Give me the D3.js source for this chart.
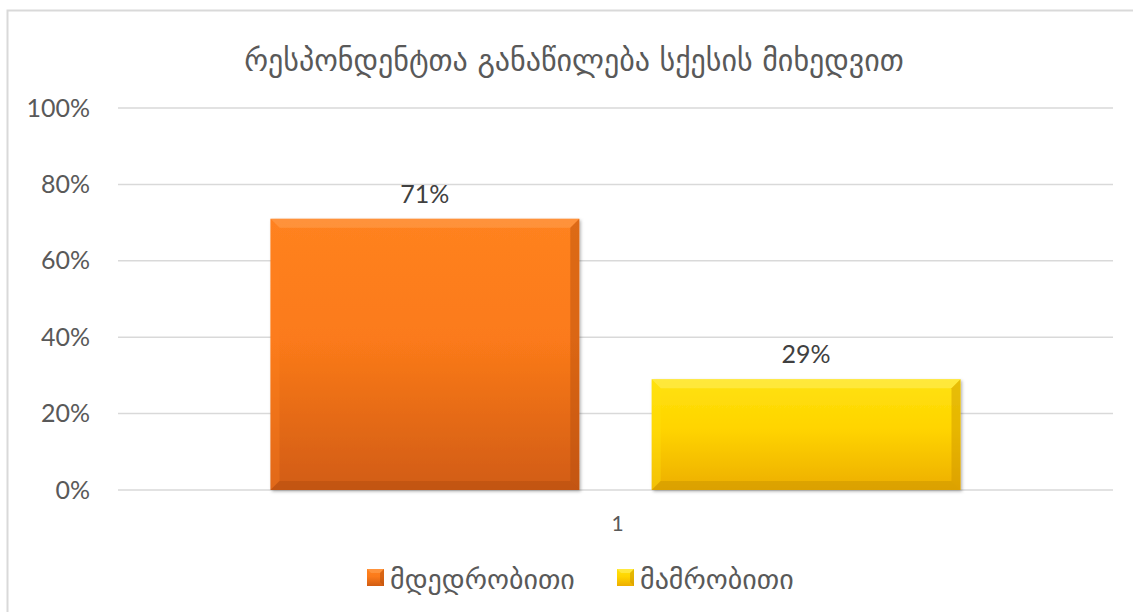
<!DOCTYPE html>
<html><head><meta charset="utf-8">
<script src="https://cdn.jsdelivr.net/npm/d3@7"></script>
<style>body{margin:0;background:#fff}svg{display:block}</style>
</head><body>
<svg id="c" width="1134" height="612"></svg>
<script>
const title = "რესპონდენტთა განაწილება სქესის მიხედვით";
const categories = ["1"];
const seriesNames = ["მდედრობითი", "მამრობითი"];
const seriesValues = [0.71, 0.29];
const valueLabels = ["71%", "29%"];
const yTicks = [0, 0.2, 0.4, 0.6, 0.8, 1.0];
const colors = [
  {top:"#FF8220", mid:"#FB7A1A", bot:"#D15C12", light:"#FFA050", dark:"#B44E0E"},
  {top:"#FFE20E", mid:"#FFD400", bot:"#EDAE00", light:"#FFEE60", dark:"#C99300"}
];

const svg = d3.select("#c");
const txt = "#595959";
const numFont = "Lato, 'Open Sans', sans-serif";
const geoFont = "'DejaVu Sans', 'Noto Sans', sans-serif";

// chart border
svg.append("path").attr("d","M7.5,612 V10.5 H1133").attr("fill","none").attr("stroke","#D9D9D9").attr("stroke-width",2);

const L=118, R=1113, T=108, B=490;
const y = d3.scaleLinear().domain([0,1]).range([B,T]);
const x0 = d3.scaleBand().domain(categories).range([L,R]).paddingInner(0).paddingOuter(0);
const x1 = d3.scaleBand().domain(seriesNames).range([0,x0.bandwidth()]).paddingInner(0.19).paddingOuter(0.4);

// gridlines
svg.append("g").selectAll("line").data(yTicks).join("line")
  .attr("x1",L).attr("x2",R).attr("y1",d=>y(d)).attr("y2",d=>y(d))
  .attr("stroke","#D9D9D9").attr("stroke-width",1.5);

// y axis labels
const yAxis = d3.axisLeft(y).tickValues(yTicks).tickFormat(d3.format(".0%")).tickSize(0).tickPadding(28);
const ga = svg.append("g").attr("transform",`translate(${L},0)`).call(yAxis);
ga.select(".domain").remove();
ga.selectAll("text").attr("font-family",numFont).attr("font-size",25).attr("fill",txt);

// gradients
const defs = svg.append("defs");
colors.forEach((c,i)=>{
  const g = defs.append("linearGradient").attr("id","g"+i).attr("x1",0).attr("y1",0).attr("x2",0).attr("y2",1);
  g.append("stop").attr("offset","0%").attr("stop-color",c.top);
  g.append("stop").attr("offset","45%").attr("stop-color",c.mid);
  g.append("stop").attr("offset","100%").attr("stop-color",c.bot);
});
const sh = defs.append("filter").attr("id","sh").attr("x","-5%").attr("y","-5%").attr("width","115%").attr("height","115%");
sh.append("feDropShadow").attr("dx",1.5).attr("dy",1.5).attr("stdDeviation",1.5).attr("flood-color","#000").attr("flood-opacity",0.3);

// bars
const data = seriesNames.map((s,i)=>({s, v:seriesValues[i], i, label:valueLabels[i]}));
const bars = svg.append("g").attr("transform",`translate(${x0(categories[0])},0)`);
const bw = x1.bandwidth();
const bev = 9;
data.forEach(d=>{
  const xa = x1(d.s), xb = xa+bw, ya = y(d.v), yb = y(0);
  const g = bars.append("g");
  g.append("rect").attr("x",xa).attr("y",ya).attr("width",bw).attr("height",yb-ya)
    .attr("fill",`url(#g${d.i})`).attr("filter","url(#sh)");
  const c = colors[d.i];
  g.append("path").attr("d",`M${xa},${ya} L${xb},${ya} L${xb-bev},${ya+bev} L${xa+bev},${ya+bev}Z`).attr("fill",c.light).attr("opacity",0.55);
  g.append("path").attr("d",`M${xa},${ya} L${xa+bev},${ya+bev} L${xa+bev},${yb-bev} L${xa},${yb}Z`).attr("fill",c.top).attr("opacity",0.35);
  g.append("path").attr("d",`M${xb},${ya} L${xb},${yb} L${xb-bev},${yb-bev} L${xb-bev},${ya+bev}Z`).attr("fill",c.dark).attr("opacity",0.45);
  g.append("path").attr("d",`M${xa},${yb} L${xb},${yb} L${xb-bev},${yb-bev} L${xa+bev},${yb-bev}Z`).attr("fill",c.dark).attr("opacity",0.5);
  g.append("text").attr("x",(xa+xb)/2).attr("y",ya-16).attr("text-anchor","middle")
    .attr("font-family",numFont).attr("font-size",25).attr("fill","#404040").text(d.label);
});

// category label
svg.append("text").attr("x",x0(categories[0])+x0.bandwidth()/2+2).attr("y",531).attr("text-anchor","middle")
  .attr("font-family",numFont).attr("font-size",21).attr("fill",txt).text(categories[0]);

// title
svg.append("text").attr("x",574).attr("y",71).attr("text-anchor","middle")
  .attr("font-family",geoFont).attr("font-size",30).attr("fill",txt).text(title);

// legend
const legX = [367, 617];
data.forEach((d,i)=>{
  const c = colors[i];
  const lg = svg.append("g").attr("transform",`translate(${legX[i]},569)`);
  lg.append("rect").attr("width",17).attr("height",17).attr("fill",`url(#g${i})`);
  lg.append("path").attr("d","M0,0 L17,0 L13,4 L4,4Z").attr("fill",c.light).attr("opacity",0.6);
  lg.append("path").attr("d","M17,0 L17,17 L13,13 L13,4Z").attr("fill",c.dark).attr("opacity",0.5);
  lg.append("text").attr("x",23).attr("y",20).attr("font-family",geoFont).attr("font-size",28).attr("fill",txt).text(d.s);
});
</script>
</body></html>
